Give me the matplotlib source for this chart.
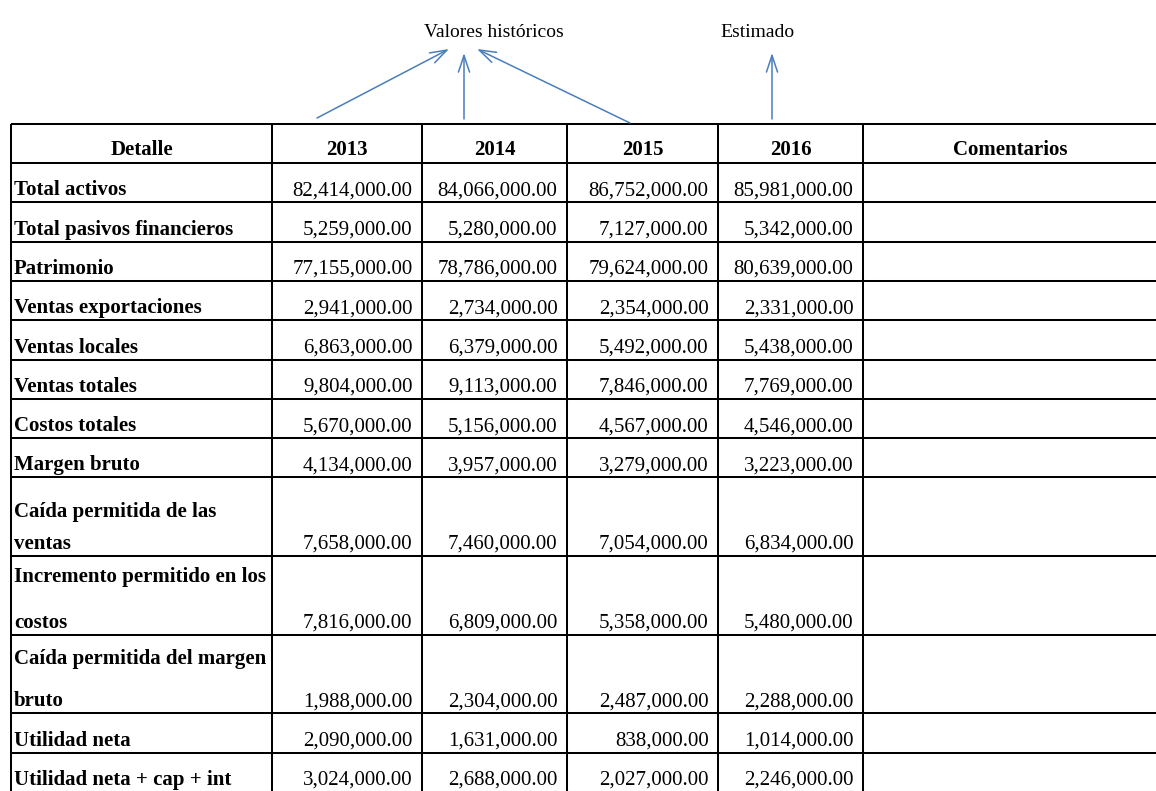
import matplotlib.pyplot as plt

# datos de la tabla
detalle = ['Total activos', 'Total pasivos financieros', 'Patrimonio',
           'Ventas exportaciones', 'Ventas locales', 'Ventas totales',
           'Costos totales', 'Margen bruto',
           'Caída permitida de las\nventas',
           'Incremento permitido en los\ncostos',
           'Caída permitida del margen\nbruto',
           'Utilidad neta', 'Utilidad neta + cap + int']
anios = ['2013', '2014', '2015', '2016']
v_2013 = [82414000, 5259000, 77155000, 2941000, 6863000, 9804000, 5670000,
          4134000, 7658000, 7816000, 1988000, 2090000, 3024000]
v_2014 = [84066000, 5280000, 78786000, 2734000, 6379000, 9113000, 5156000,
          3957000, 7460000, 6809000, 2304000, 1631000, 2688000]
v_2015 = [86752000, 7127000, 79624000, 2354000, 5492000, 7846000, 4567000,
          3279000, 7054000, 5358000, 2487000, 838000, 2027000]
v_2016 = [85981000, 5342000, 80639000, 2331000, 5438000, 7769000, 4546000,
          3223000, 6834000, 5480000, 2288000, 1014000, 2246000]
valores = [v_2013, v_2014, v_2015, v_2016]

# geometria (en pixeles de la imagen)
W, H = 1156, 791
col_x = [11, 272, 422, 567, 718, 863, 1158]   # bordes de columnas
top = 124                                     # borde superior de la tabla
h_head = 39                                   # alto del encabezado
h_row = 39.3                                  # alto de una linea de fila
first_off = {8: 40, 9: 26, 10: 29}            # baseline de 1a linea en filas dobles

fuente = 'Liberation Serif'
fs = 15
azul = '#4A7EBB'
lw = 1.45

fig = plt.figure(figsize=(W / 100, H / 100), dpi=100)
ax = fig.add_axes([0, 0, 1, 1])
ax.set_xlim(0, W)
ax.set_ylim(H, 0)
ax.axis('off')

# bordes de filas
row_y = [top, top + h_head]
for lab in detalle:
    n = lab.count('\n') + 1
    row_y.append(row_y[-1] + n * h_row)
ax.hlines(row_y, col_x[0], col_x[-1], color='black', lw=lw)
ax.vlines(col_x, top, row_y[-1], color='black', lw=lw)

# encabezado
encab = ['Detalle'] + anios + ['Comentarios']
for j, txt in enumerate(encab):
    xc = (col_x[j] + col_x[j + 1]) / 2
    ax.text(xc, row_y[1] - 8, txt, ha='center', va='baseline',
            fontsize=fs, fontweight='bold', family=fuente)

# filas
for i, lab in enumerate(detalle):
    y0, y1 = row_y[i + 1], row_y[i + 2]
    base = y1 - 7
    lineas = lab.split('\n')
    if len(lineas) == 2:
        ax.text(col_x[0] + 3, y0 + first_off[i], lineas[0], ha='left',
                va='baseline', fontsize=fs, fontweight='bold', family=fuente)
        ax.text(col_x[0] + 3, base, lineas[1], ha='left', va='baseline',
                fontsize=fs, fontweight='bold', family=fuente)
    else:
        ax.text(col_x[0] + 3, base, lab, ha='left', va='baseline',
                fontsize=fs, fontweight='bold', family=fuente)
    for j, serie in enumerate(valores):
        ax.text(col_x[j + 2] - 9.5, base, f'{serie[i]:,.2f}', ha='right',
                va='baseline', fontsize=fs, family=fuente)

# notas con flechas
ax.text(494, 37, 'Valores históricos', ha='center', va='baseline',
        fontsize=14, family=fuente)
ax.text(757, 37, 'Estimado', ha='center', va='baseline',
        fontsize=14, family=fuente)
flechas = [((317, 118), (449, 49)),
           ((464, 119), (464, 53)),
           ((630, 123), (477, 49)),
           ((772, 119), (772, 53))]
for ini, fin in flechas:
    ax.annotate('', xy=fin, xytext=ini,
                arrowprops=dict(arrowstyle='->,head_length=0.6,head_width=0.2',
                                color=azul, lw=1.1, shrinkA=0, shrinkB=0,
                                mutation_scale=20))

fig.savefig('out.png', dpi=100)
